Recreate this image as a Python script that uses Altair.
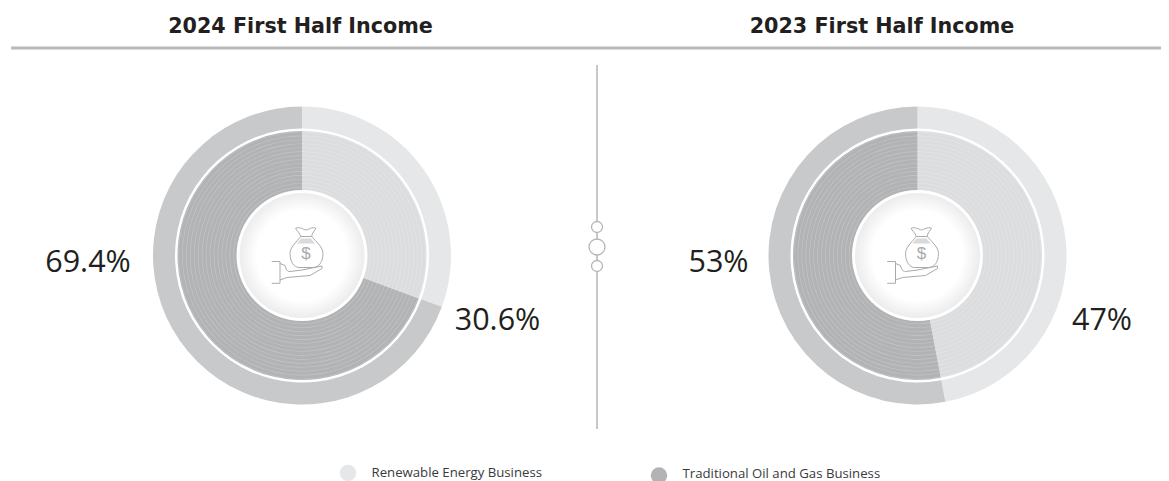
import math
import altair as alt
import pandas as pd

years = ["2024", "2023"]
titles = ["2024 First Half Income", "2023 First Half Income"]
series = ["Renewable Energy Business", "Traditional Oil and Gas Business"]
renewable = [30.6, 47.0]
traditional = [69.4, 53.0]
renewable_labels = ["30.6%", "47%"]
traditional_labels = ["69.4%", "53%"]

OX, OY = 8, 8
CX = {"2024": 302, "2023": 917.5}
CY = 255.5
px = lambda v: alt.value(v - OX)
py = lambda v: alt.value(v - OY)

rows = []
for i, y in enumerate(years):
    rows.append(dict(year=y, series=series[0], start=0, end=renewable[i], outer="#e6e7e8", inner="#dcddde"))
    rows.append(dict(year=y, series=series[1], start=renewable[i], end=100, outer="#c8c9cb", inner="#b2b3b5"))
df = pd.DataFrame(rows)

theta_scale = alt.Scale(domain=[0, 100], range=[0, 2 * math.pi])
ring_radii = [68 + 3.95 * k for k in range(15)]

BAG_NECK = "M-1.3 -19C-2 -23 -6 -25 -6.3 -27.3C-2 -29 1 -26 4 -25.5C7 -26 10 -29 14 -27.3C13 -25 10 -23 9.7 -19Z"
BAG_BODY = "M-1.3 -19C-6 -13 -12 -8 -12 -2C-12 6 -8 12 -3 12L11 12C17 12 21 6 21 -2C21 -8 15 -13 9.7 -19"
BAG_SHADE = "M-1 -17L9 -17L13 -12L-5 -12Z"
CUFF = "M-30.3 6L-22 6L-22 27.8L-30.3 27.8"
HAND = "M-22 8L-17 10C-16 14 -15 16 -12 16L0 14.5L20 10.5L20 13L8 20L-15 22L-22 24.5"

layers = []

layers.append(alt.Chart(pd.DataFrame({"k": [0]})).mark_rule(color="#b8b9bb", strokeWidth=3).encode(
    x=px(11), x2=px(1169), y=py(48)))
layers.append(alt.Chart(pd.DataFrame({"k": [0]})).mark_rule(color="#b5b6b8", strokeWidth=1.5).encode(
    x=px(597), y=py(65), y2=py(429)))
for cy, r in [(227, 5.5), (247, 8), (266, 5.5)]:
    layers.append(alt.Chart(pd.DataFrame({"k": [0]})).mark_point(
        shape="circle", filled=True, fill="white", stroke="#b5b6b8", strokeWidth=1.3, opacity=1,
        size=4 * r * r).encode(x=px(597), y=py(cy)))

for i, y in enumerate(years):
    cx = CX[y]
    d = df[df.year == y]
    base = alt.Chart(d)
    theta = alt.Theta("start:Q", scale=theta_scale)
    layers.append(base.mark_arc(radius=149, radius2=127).encode(
        theta=theta, theta2="end:Q", color=alt.Color("outer:N", scale=None), x=px(cx), y=py(CY)))
    layers.append(base.mark_arc(radius=124.5, radius2=64).encode(
        theta=theta, theta2="end:Q", color=alt.Color("inner:N", scale=None), x=px(cx), y=py(CY)))
    for r in ring_radii:
        layers.append(base.mark_arc(radius=r + 0.6, radius2=r, color="white", opacity=0.25).encode(
            theta=theta, theta2="end:Q", x=px(cx), y=py(CY)))
    grad = alt.RadialGradient(
        gradient="radial", x1=0.5, y1=0.5, x2=0.5, y2=0.5, r1=0, r2=0.5,
        stops=[alt.GradientStop(offset=0.72, color="#ffffff"),
               alt.GradientStop(offset=1, color="#ececed")],
    )
    one = alt.Chart(pd.DataFrame({"k": [y]}))
    layers.append(one.mark_arc(radius=65.5, color="white").encode(
        theta=alt.value(0), theta2=alt.value(2 * math.pi), x=px(cx), y=py(CY)))
    layers.append(one.mark_arc(radius=62.5, color=grad).encode(
        theta=alt.value(0), theta2=alt.value(2 * math.pi), x=px(cx), y=py(CY)))
    for path, filled in [(BAG_SHADE, True), (BAG_NECK, False), (BAG_BODY, False), (CUFF, False), (HAND, False)]:
        if filled:
            m = one.mark_point(shape=path, size=4, filled=True, fill="#d9dadb", opacity=1, strokeWidth=0)
        else:
            m = one.mark_point(shape=path, size=4, filled=False, stroke="#a9aaac", strokeWidth=1, opacity=1)
        layers.append(m.encode(x=px(cx), y=py(CY)))
    layers.append(one.mark_text(text="$", font="Liberation Sans", fontSize=17, color="#a9aaac").encode(
        x=px(cx + 4), y=py(CY - 2)))

    layers.append(alt.Chart(pd.DataFrame({"t": [titles[i]]})).mark_text(
        font="DejaVu Sans", fontWeight="bold", fontSize=20.7, color="#231f20", align="center", baseline="middle"
    ).encode(text="t:N", x=px(300.5 if i == 0 else 882), y=py(27)))

label_pos = [[(88, 263), (497.5, 321)], [(718.5, 263), (1102, 321)]]
for i in range(2):
    for txt, (lx, ly) in zip([traditional_labels[i], renewable_labels[i]], label_pos[i]):
        layers.append(alt.Chart(pd.DataFrame({"t": [txt]})).mark_text(
            font="Open Sans", fontSize=30.5, color="#231f20", align="center", baseline="middle"
        ).encode(text="t:N", x=px(lx), y=py(ly)))

for name, col, dx, dy, tx, ty in [
    (series[0], "#e6e7e8", 348, 473, 371.5, 473),
    (series[1], "#b2b3b5", 659, 475.5, 682.5, 474),
]:
    d = alt.Chart(pd.DataFrame({"t": [name]}))
    layers.append(d.mark_point(shape="circle", filled=True, fill=col, opacity=1, strokeWidth=0, size=272).encode(
        x=px(dx), y=py(dy)))
    layers.append(d.mark_text(font="Open Sans", fontSize=13.2, color="#3a3a3c", align="left", baseline="middle").encode(
        text="t:N", x=px(tx), y=py(ty)))

chart = alt.layer(*layers).properties(
    width=1153, height=473, padding=0, autosize=alt.AutoSizeParams(type="none"),
    background="white",
).configure_view(stroke=None)
chart.save("out.html", embed_options={"renderer": "svg", "actions": False})
